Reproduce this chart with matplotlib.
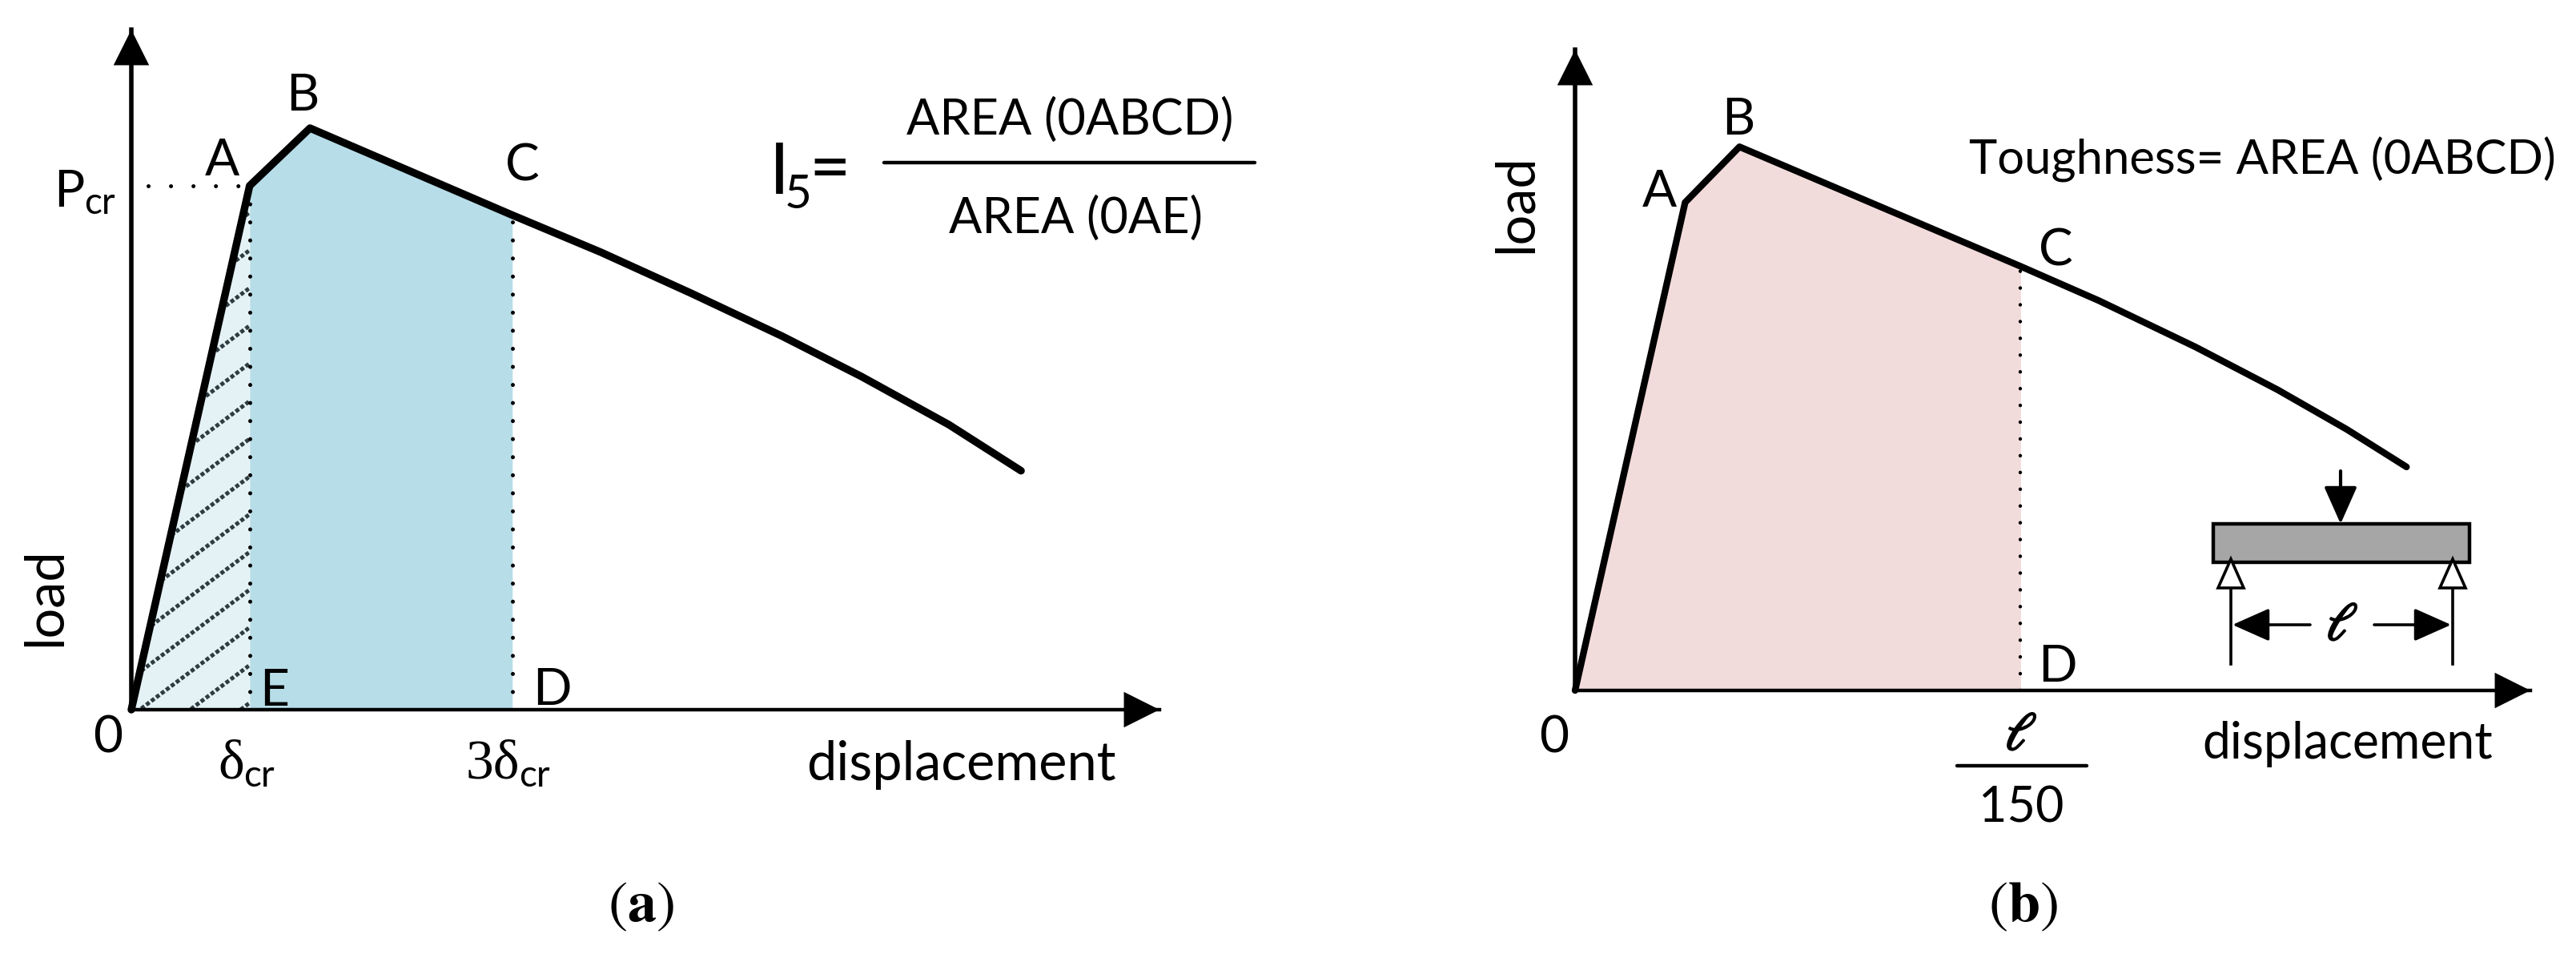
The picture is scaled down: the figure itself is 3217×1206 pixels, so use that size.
import matplotlib
matplotlib.use("Agg")
from matplotlib import pyplot as plt
from matplotlib import patheffects as pe
from matplotlib.patches import Polygon, Rectangle
import numpy as np

plt.rcParams["font.family"] = ["Lato", "DejaVu Sans"]
plt.rcParams["mathtext.fontset"] = "stix"

W, H = 3217, 1206

# panel a, displacement in units of delta_cr, load in units of P_cr
disp_a = [0, 1.0, 1.51, 3.22, 3.97, 4.73, 5.50, 6.17, 6.91, 7.52]
load_a = [0, 1.0, 1.11, 0.944, 0.873, 0.795, 0.713, 0.636, 0.544, 0.456]
# panel b, displacement in units of l/150, load relative to point A
disp_b = [0, 0.247, 0.369, 1.0, 1.175, 1.392, 1.577, 1.732, 1.866]
load_b = [0, 1.0, 1.114, 0.869, 0.799, 0.704, 0.616, 0.535, 0.458]

# text labels: string, x px, y px, size
labels = [
    ("P", 86, 240, 46), ("A", 277, 201, 46), ("B", 378, 120, 46), ("C", 652, 208, 46),
    ("E", 343, 863, 46), ("D", 689, 862, 46), ("0", 135, 921, 46),
    ("displacement", 1200, 955, 48), ("AREA (0ABCD)", 1336, 150, 44), ("AREA (0AE)", 1344, 273, 44),
    ("A", 2072, 240, 46), ("B", 2171, 150, 46), ("C", 2567, 314, 46), ("D", 2569, 833, 46),
    ("0", 1941, 921, 46), ("displacement", 2932, 929, 45),
    ("Toughness= AREA (0ABCD)", 2825, 199, 43), ("150", 2524, 1009, 44),
]


def make_axes(x0, y0, x1, y1, xmax, ymax):
    # axes placed from the origin pixel to the arrow tips
    ax = fig.add_axes([x0 / W, 1 - y0 / H, (x1 - x0) / W, (y0 - y1) / H])
    ax.set_xlim(0, xmax)
    ax.set_ylim(0, ymax)
    ax.patch.set_alpha(0)
    ax.set_xticks([])
    ax.set_yticks([])
    ax.spines["top"].set_visible(False)
    ax.spines["right"].set_visible(False)
    ax.spines["left"].set_linewidth(4)
    ax.spines["bottom"].set_linewidth(3.2)
    for xy, xyt in [((1, 0), (0.9, 0)), ((0, 1), (0, 0.9))]:
        ax.annotate("", xy=xy, xytext=xyt, xycoords="axes fraction", textcoords="axes fraction",
                    arrowprops=dict(arrowstyle="-|>,head_length=0.8,head_width=0.4", mutation_scale=40,
                                    color="black", lw=0, shrinkA=0, shrinkB=0))
    return ax


fig = plt.figure(figsize=(W / 100, H / 100), dpi=100)

# (a)
ax_a = make_axes(164, 886, 1448, 37, 8.69, 1.298)
x_a = np.array(disp_a)
y_a = np.array(load_a)
tri = Polygon([[0, 0], [1.0, 1.0], [1.0, 0]], closed=True, fc="#e4f2f6", ec="none", zorder=1)
ax_a.add_patch(tri)
mask = (x_a >= 1.0) & (x_a <= 3.22)
ax_a.fill_between(x_a[mask], 0, y_a[mask], color="#b7dde8", lw=0, zorder=1)
for y0 in np.arange(-0.3, 1.0, 0.072):
    ax_a.plot([0, 1.0], [y0, y0 + 0.169], color="#2e3c42", lw=3.6, ls=(0, (1, 0.55)), zorder=2, clip_path=tri)
ax_a.plot([1.0, 1.0], [0, 1.0], color="black", lw=3.6, ls=(0, (0.01, 4.5)), dash_capstyle="round", zorder=3)
ax_a.plot([3.22, 3.22], [0, 0.944], color="black", lw=3.6, ls=(0, (0.01, 4.5)), dash_capstyle="round", zorder=3)
ax_a.plot([0.14, 1.0], [1.0, 1.0], color="black", lw=3.6, ls=(0, (0.01, 5.6)), dash_capstyle="round", zorder=3)
ax_a.plot(disp_a, load_a, color="black", lw=6.8, solid_capstyle="round", solid_joinstyle="round", zorder=4, clip_on=False)

# (b)
ax_b = make_axes(1967, 862, 3160, 62, 2.144, 1.313)
x_b = np.array(disp_b)
y_b = np.array(load_b)
mask = x_b <= 1.0
ax_b.fill_between(x_b[mask], 0, y_b[mask], color="#f2dcdb", lw=0, zorder=1)
ax_b.plot([1.0, 1.0], [0, 0.869], color="black", lw=3.2, ls=(0, (0.01, 4.7)), dash_capstyle="round", zorder=3)
ax_b.plot(disp_b, load_b, color="black", lw=6.0, solid_capstyle="round", solid_joinstyle="round", zorder=4, clip_on=False)

# overlay in pixels for the texts and the small beam sketch
ov = fig.add_axes([0, 0, 1, 1])
ov.set_xlim(0, W)
ov.set_ylim(H, 0)
ov.axis("off")
ov.patch.set_alpha(0)

for s, x, y, size in labels:
    ov.text(x, y, s, fontsize=size, ha="center", va="center", color="black")

ov.text(57, 745, "load", fontsize=48, rotation=90, ha="center", va="center")
ov.text(1894, 254, "load", fontsize=48, rotation=90, ha="center", va="center")
ov.text(105, 254, "cr", fontsize=33, ha="left", va="center")
ov.text(272, 955, "δ", fontsize=50, family="Liberation Serif", ha="left", va="center")
ov.text(304, 969, "cr", fontsize=33, ha="left", va="center")
ov.text(582, 955, "3δ", fontsize=50, family="Liberation Serif", ha="left", va="center")
ov.text(648, 969, "cr", fontsize=33, ha="left", va="center")

# I5 = fraction
ov.text(973, 217, "I", fontsize=64, ha="center", va="center")
ov.text(997, 243, "5", fontsize=42, ha="center", va="center")
ov.text(1036, 214, "=", fontsize=64, ha="center", va="center")
ov.plot([1104, 1567], [203, 203], color="black", lw=3.2, solid_capstyle="round")

# l/150
ov.plot([2444, 2606], [956, 956], color="black", lw=3.2, solid_capstyle="round")
bold = [pe.withStroke(linewidth=1.5, foreground="black")]
ov.text(2524, 917, r"$\ell$", fontsize=48, ha="center", va="center", path_effects=bold)

# beam sketch
ov.add_patch(Rectangle((2764, 654), 320, 48, fc="#a6a6a6", ec="black", lw=3.2, zorder=2))
ov.annotate("", xy=(2923, 654), xytext=(2923, 588),
            arrowprops=dict(arrowstyle="-|>,head_length=0.9,head_width=0.4", mutation_scale=32,
                            color="black", lw=3, shrinkA=0, shrinkB=0))
for x in [2786, 3063]:
    ov.plot([x, x], [732, 829], color="black", lw=2.6)
    ov.add_patch(Polygon([[x, 698], [x - 16, 734], [x + 16, 734]], closed=True, fc="white", ec="black", lw=2.6, zorder=3))
ov.annotate("", xy=(2788, 780), xytext=(2885, 780),
            arrowprops=dict(arrowstyle="-|>,head_length=0.9,head_width=0.4", mutation_scale=32,
                            color="black", lw=2.6, shrinkA=0, shrinkB=0))
ov.annotate("", xy=(3061, 780), xytext=(2965, 780),
            arrowprops=dict(arrowstyle="-|>,head_length=0.9,head_width=0.4", mutation_scale=32,
                            color="black", lw=2.6, shrinkA=0, shrinkB=0))
ov.text(2925, 780, r"$\ell$", fontsize=48, ha="center", va="center", path_effects=bold)

# panel captions
ov.text(800, 1132, r"$(\mathbf{a})$", fontsize=52, ha="center", va="center")
ov.text(2526, 1132, r"$(\mathbf{b})$", fontsize=52, ha="center", va="center")

plt.savefig("out.png", dpi=100)
